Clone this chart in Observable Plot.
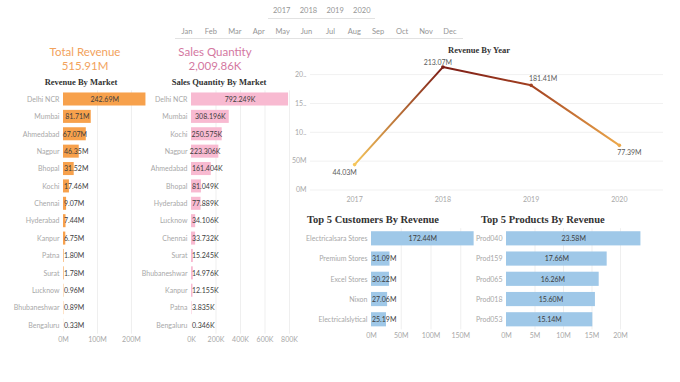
<!DOCTYPE html>
<html><head><meta charset="utf-8">
<script src="https://cdn.jsdelivr.net/npm/d3@7"></script>
<script src="https://cdn.jsdelivr.net/npm/@observablehq/plot@0.6"></script>
<style>
body{margin:0;background:#fff;font-family:Lato,"Open Sans",sans-serif;}
#dash{position:relative;width:680px;height:382px;overflow:hidden;background:#fff;}
.abs{position:absolute;white-space:nowrap;}
.title{font-family:"Liberation Serif","Times New Roman",serif;font-weight:bold;color:#333;}
svg{overflow:visible;}
</style></head><body><div id="dash"></div>
<script>
// ---------- data ----------
const yearFilters = ["2017","2018","2019","2020"];
const monthFilters = ["Jan","Feb","Mar","Apr","May","Jun","Jul","Aug","Sep","Oct","Nov","Dec"];
const kpiLabels = ["Total Revenue","Sales Quantity"];
const kpiValues = ["515.91M","2,009.86K"];

const revMarkets = ["Delhi NCR","Mumbai","Ahmedabad","Nagpur","Bhopal","Kochi","Chennai","Hyderabad","Kanpur","Patna","Surat","Lucknow","Bhubaneshwar","Bengaluru"];
const revByMarket = [242.69,81.71,67.07,46.35,31.52,17.46,9.07,7.44,6.75,1.80,1.78,0.96,0.89,0.33];
const revMarketTicks = [0,100,200];

const qtyMarkets = ["Delhi NCR","Mumbai","Kochi","Nagpur","Ahmedabad","Bhopal","Hyderabad","Lucknow","Chennai","Surat","Bhubaneshwar","Kanpur","Patna","Bengaluru"];
const qtyByMarket = [792.249,308.196,250.575,223.306,161.404,81.049,77.889,34.106,33.732,15.245,14.976,12.155,3.835,0.346];
const qtyTicks = [0,200,400,600,800];

const years = ["2017","2018","2019","2020"];
const revByYear = [44.03,213.07,181.41,77.39];
const yearTicks = [0,50,100,150,200];
const yearTickLabels = ["0M","50M","10..","15..","20.."];

const customers = ["Electricalsara Stores","Premium Stores","Excel Stores","Nixon","Electricalslytical"];
const customerRev = [172.44,31.09,30.22,27.06,25.19];
const customerTicks = [0,50,100,150];

const products = ["Prod040","Prod159","Prod065","Prod018","Prod053"];
const productRev = [23.58,17.66,16.26,15.60,15.14];
const productTicks = [0,5,10,15,20];

// ---------- layout helpers ----------
const dash = document.getElementById("dash");
function txt(s, x, y, {size=8, color="#888", anchor="middle", cls="", weight="normal"} = {}) {
  const d = document.createElement("div");
  d.className = "abs " + cls;
  d.textContent = s;
  d.style.fontSize = size + "px";
  d.style.color = color;
  d.style.fontWeight = weight;
  d.style.left = x + "px";
  d.style.top = y + "px";
  d.style.lineHeight = "1";
  const tx = anchor === "middle" ? "-50%" : anchor === "end" ? "-100%" : "0";
  d.style.transform = `translate(${tx},-50%)`;
  dash.appendChild(d);
}
function hline(x1, x2, y, color="#e2e2e2") {
  const d = document.createElement("div");
  d.className = "abs";
  Object.assign(d.style, {left:x1+"px", top:y+"px", width:(x2-x1)+"px", height:"1px", background:color});
  dash.appendChild(d);
}
function place(el, left, top) {
  el.style.position = "absolute";
  el.style.left = left + "px";
  el.style.top = top + "px";
  dash.appendChild(el);
}
const baseStyle = {fontFamily:"Lato, 'Open Sans', sans-serif", fontSize:"7px", color:"#a8a8a8", background:"transparent", overflow:"visible"};

// ---------- filters ----------
const yearX0 = 281.7, yearStep = 26.7;
yearFilters.forEach((s,i) => txt(s, yearX0 + i*yearStep, 11, {size:7.5, color:"#959595"}));
hline(268, 375, 18);
const monthX0 = 187, monthStep = 23.9;
monthFilters.forEach((s,i) => txt(s, monthX0 + i*monthStep, 32, {size:7.5, color:"#959595"}));
hline(175, 463, 38);

// ---------- KPIs ----------
const kpiColors = ["#f2a25c","#d4789f"];
const kpiX = [85, 215];
kpiLabels.forEach((s,i) => {
  txt(s, kpiX[i], 52.3, {size:11.5, color:kpiColors[i]});
  txt(kpiValues[i], kpiX[i], 65.5, {size:11.5, color:kpiColors[i]});
});

// ---------- titles ----------
txt("Revenue By Market", 81, 82, {size:8.5, color:"#333", cls:"title", weight:"bold"});
txt("Sales Quantity By Market", 219, 82, {size:8.5, color:"#333", cls:"title", weight:"bold"});
txt("Revenue By Year", 479, 50, {size:8.5, color:"#333", cls:"title", weight:"bold"});
txt("Top 5 Customers By Revenue", 307, 220, {size:10.5, color:"#333", cls:"title", weight:"bold", anchor:"start"});
txt("Top 5 Products By Revenue", 481, 220, {size:10.5, color:"#333", cls:"title", weight:"bold", anchor:"start"});

// ---------- horizontal bar charts ----------
function hbar({cats, vals, ticks, unit, digits, color, width, height, mL, mT, mB, xMax, pi, po}) {
  const data = cats.map((c,i) => ({cat:c, v:vals[i]}));
  const pxPer = (width - mL) / xMax;
  const lab = d => d.v.toFixed(digits) + unit;
  const fits = d => d.v * pxPer >= lab(d).length * 3.55 - 2;
  return Plot.plot({
    width, height, marginLeft:mL, marginRight:0, marginTop:mT, marginBottom:mB,
    style: baseStyle,
    x: {domain:[0,xMax], ticks, tickFormat: d => d + unit, tickSize:0, tickPadding:3, label:null},
    y: {domain:cats, paddingInner:pi, paddingOuter:po, round:false, tickSize:0, tickPadding:4, label:null},
    marks: [
      Plot.ruleX(ticks.filter(t => t > 0), {stroke:"#efefef"}),
      Plot.barX(data, {x1:() => 0, x2:"v", y:"cat", fill:color}),
      Plot.text(data.filter(fits), {x:d => d.v/2, y:"cat", text:lab, fill:"#3d3d3d", textAnchor:"middle"}),
      Plot.text(data.filter(d => !fits(d)), {x:() => 0, y:"cat", text:lab, fill:"#3d3d3d", textAnchor:"start", dx:0.5})
    ]
  });
}

place(hbar({cats:revMarkets, vals:revByMarket, ticks:revMarketTicks, unit:"M", digits:2, color:"#f7a14c",
  width:152, height:262, mL:63, mT:2.3, mB:16.3, xMax:262, pi:0.25, po:0.125}), 0, 88);

place(hbar({cats:qtyMarkets, vals:qtyByMarket, ticks:qtyTicks, unit:"K", digits:3, color:"#f8bad1",
  width:155, height:262, mL:51, mT:2.3, mB:16.3, xMax:849, pi:0.25, po:0.125}), 140, 88);

place(hbar({cats:customers, vals:customerRev, ticks:customerTicks, unit:"M", digits:2, color:"#9fc8e8",
  width:182, height:120, mL:76, mT:3.2, mB:15.6, xMax:178.1, pi:0.3, po:0.15}), 295, 225);

place(hbar({cats:products, vals:productRev, ticks:productTicks, unit:"M", digits:2, color:"#9fc8e8",
  width:180, height:120, mL:36, mT:3.2, mB:15.6, xMax:25.26, pi:0.3, po:0.15}), 470, 225);

// ---------- line chart ----------
const yearData = years.map((y,i) => ({year:y, value:revByYear[i]}));
const colorFor = d3.scaleLinear().domain([44, 130, 213]).range(["#f6c65b","#e07b31","#7c1c16"]);
const labelOffsets = [[-10,8],[-5,-4],[12,-7],[10,7]];
const lineSvg = Plot.plot({
  width:390, height:170, marginLeft:20, marginRight:17, marginTop:19.7, marginBottom:20.5,
  style: baseStyle,
  x: {type:"point", domain:years, padding:0.5, round:false, tickSize:0, tickPadding:7, label:null},
  y: {domain:[0,225], ticks:yearTicks, tickFormat: d => yearTickLabels[yearTicks.indexOf(d)], tickSize:0, tickPadding:4, label:null},
  color: {type:"identity"},
  marks: [
    Plot.ruleY(yearTicks, {stroke:"#f1f1f1"}),
    Plot.line(yearData, {x:"year", y:"value", stroke:"url(#revGrad)", strokeWidth:2}),
    Plot.dot(yearData, {x:"year", y:"value", fill:d => colorFor(d.value), r:1.8}),
    ...yearData.map((d,i) => Plot.text([d], {x:"year", y:"value", text:e => e.value.toFixed(2)+"M",
      fill:"#5a5a5a", dx:labelOffsets[i][0], dy:labelOffsets[i][1]}))
  ]
});
(function addGradient(svg){
  const ns = "http://www.w3.org/2000/svg";
  const defs = document.createElementNS(ns, "defs");
  const g = document.createElementNS(ns, "linearGradient");
  g.setAttribute("id","revGrad");
  g.setAttribute("x1","0"); g.setAttribute("x2","1"); g.setAttribute("y1","0"); g.setAttribute("y2","0");
  revByYear.forEach((v,i) => {
    const s = document.createElementNS(ns, "stop");
    s.setAttribute("offset", (i/(revByYear.length-1)).toString());
    s.setAttribute("stop-color", colorFor(v));
    g.appendChild(s);
  });
  defs.appendChild(g);
  svg.insertBefore(defs, svg.firstChild);
})(lineSvg);
place(lineSvg, 290, 40);
</script>
</body></html>
